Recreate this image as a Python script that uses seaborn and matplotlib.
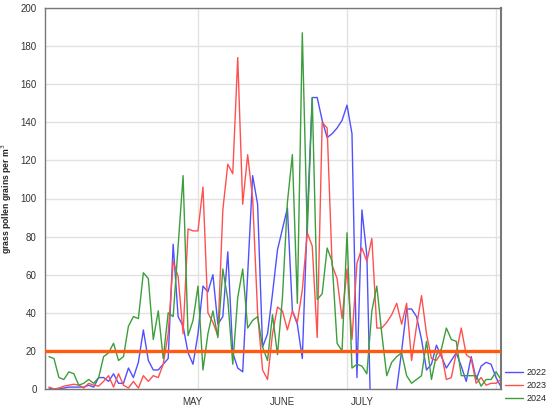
import numpy as np
import pandas as pd
import matplotlib
matplotlib.use("Agg")
import matplotlib.pyplot as plt
import seaborn as sns

# daily grass pollen counts (grains per m3), one value per day of season
pollen_2022 = [0.5, 0, 0, 0.5, 1, 1, 1, 1, 2, 1, 6, 6, 4, 8, 3, 3,
               11, 6, 14, 31, 15, 10, 10, 13, 16, 76, 38, 33, 19, 13, 29, 54,
               51, 60, 34, 38, 72, 19, 11, 9, 60, 112, 97, 22, 29, 50, 73, 84,
               95, 41, 34, 16, 90, 153, 153, 141, 132, 134, 137, 141, 149, 134, 6, 94,
               70, -40, -40, -40, -40, -40, 0, 20, 42, 42, 38, 26, 10, 13, 23, 17,
               11, 15, 19, 12, 4, 17, 5, 12, 14, 13, 6, 1]
pollen_2023 = [1, 0, 0.5, 1.5, 2, 2.5, 2, 0.5, 3, 2, 1.5, 4, 7, 1, 8, 2,
               0.5, 4, 0.5, 7, 4, 7, 6, 13, 29, 67, 59, 29, 84, 83, 83, 106,
               40, 35, 28, 94, 118, 113, 174, 97, 123, 100, 40, 10, 5, 29, 43, 41,
               31, 41, 35, 52, 82, 75, 27, 140, 137, 65, 58, 37, 63, 26, 66, 74,
               67, 79, 32, 32, 35, 39, 45, 34, 45, 15, 33, 49, 29, 16, 15, 19,
               5, 6, 19, 32, 18, 16, 3, 6, 2, 3, 3, 5]
pollen_2024 = [17, 16, 6, 5, 9, 8, 2, 3, 5, 3, 6, 17, 19, 24, 15, 17,
               33, 38, 37, 61, 58, 26, 41, 16, 40, 38, 75, 112, 28, 36, 54, 10,
               29, 41, 27, 63, 47, 13, 48, 63, 32, 36, 38, 22, 15, 39, 18, 48,
               98, 123, 45, 187, 82, 153, 47, 50, 74, 67, 24, 20, 82, 11, 13, 12,
               8, 41, 54, 29, 7, 14, 17, 19, 7, 3, 5, 7, 25, 5, 18, 21,
               32, 26, 25, 7, 7, 7, 7, 1.5, 5, 5, 9, 5]
years = ["2022", "2023", "2024"]
threshold = 20
month_labels = ["MAY", "JUNE", "JULY"]
month_label_pos = [28.8, 47.1, 63.0]
month_grid = [30, 60, 90]

days = np.arange(len(pollen_2022))
df = pd.DataFrame({
    "day": np.tile(days, 3),
    "count": pollen_2022 + pollen_2023 + pollen_2024,
    "year": np.repeat(years, len(days)),
})

sns.set_theme(style="white")
plt.rcParams["font.family"] = ["Liberation Sans", "DejaVu Sans"]

fig = plt.figure(figsize=(5.5, 4.07), dpi=100)
ax = fig.add_axes([45 / 550, 1 - 389 / 407, 456 / 550, 381 / 407])

palette = {"2022": "#5050ff", "2023": "#ff5050", "2024": "#3c9e3c"}
sns.lineplot(data=df, x="day", y="count", hue="year", palette=palette,
             linewidth=1.0, ax=ax, legend=True)
ax.axhline(threshold, color="#ff5a10", linewidth=2.4, zorder=5)

ax.set_xlim(-0.8, 91)
ax.set_ylim(0, 200)
ax.set_yticks(range(0, 201, 20))
ax.set_xticks(month_grid)
ax.set_xticklabels([])
ax.grid(True, color="#e2e2e2", linewidth=1.0)
ax.set_axisbelow(True)
ax.tick_params(axis="y", labelsize=7, colors="#333333", length=0, pad=6)
ax.tick_params(axis="x", length=3, direction="in", color="#666666")
for lab, pos in zip(month_labels, month_label_pos):
    ax.text(pos, -0.02, lab, transform=ax.get_xaxis_transform(), ha="center",
            va="top", fontsize=7, color="#333333")
for s in ax.spines.values():
    s.set_color("#777777")
    s.set_linewidth(1.0)
ax.spines["right"].set_linewidth(1.5)

ax.set_xlabel("")
ax.set_ylabel("grass pollen grains per m$^3$", fontsize=6.2, color="#222222",
              fontweight="bold")
ax.yaxis.set_label_coords(-0.068, 0.5)

handles, labels = ax.get_legend_handles_labels()
ax.legend(handles, labels, loc="lower left", bbox_to_anchor=(1.005, -0.042),
          frameon=False, fontsize=6.5, handlelength=2.0, handletextpad=0.4,
          labelspacing=0.45, borderpad=0.2, borderaxespad=0.0)

fig.savefig("out.png", dpi=100)
